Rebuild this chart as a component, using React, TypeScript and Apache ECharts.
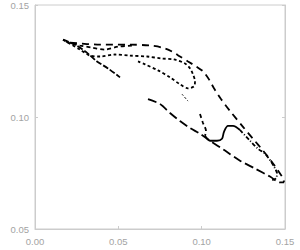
import React, { useEffect, useRef } from "react";
import * as echarts from "echarts";

const xTicks = ["0.00", "0.05", "0.10", "0.15"];
const yTicks = ["0.05", "0.10", "0.15"];

// outer long-dashed loop
const outerLoop: [number, number][] = [
  [0.021, 0.1332], [0.039, 0.1323], [0.057, 0.1323], [0.069, 0.1319], [0.0762, 0.131],
  [0.0822, 0.1292], [0.087, 0.127], [0.0918, 0.1248], [0.0966, 0.1226], [0.1008, 0.1204],
  [0.1044, 0.1168], [0.1074, 0.1128], [0.1116, 0.108], [0.117, 0.1027], [0.1248, 0.0956],
  [0.1308, 0.0903], [0.1368, 0.085], [0.1416, 0.0805], [0.1458, 0.0761], [0.1488, 0.0726],
  [0.1494, 0.0708],
];
// lower long line
const lowerLine: [number, number][] = [
  [0.0678, 0.108], [0.075, 0.1058], [0.081, 0.1018], [0.087, 0.0982], [0.093, 0.0951],
  [0.099, 0.0925], [0.105, 0.0894], [0.114, 0.085], [0.123, 0.0805], [0.132, 0.077],
  [0.141, 0.0734], [0.147, 0.0708], [0.1494, 0.0708],
];
// inner dotted loop
const innerLoop: [number, number][] = [
  [0.0168, 0.1345], [0.027, 0.1301], [0.033, 0.1274], [0.039, 0.127], [0.048, 0.1279],
  [0.057, 0.1274], [0.0672, 0.127], [0.0762, 0.1261], [0.0834, 0.1257], [0.09, 0.1239],
  [0.093, 0.1217], [0.0948, 0.119], [0.096, 0.1159], [0.0954, 0.1137], [0.0918, 0.1128],
  [0.087, 0.1146], [0.081, 0.1177], [0.0738, 0.1208], [0.066, 0.1235], [0.0618, 0.1248],
];
// left diagonal
const leftDiag: [number, number][] = [
  [0.0168, 0.1345], [0.024, 0.1323], [0.0318, 0.1283], [0.0372, 0.1248], [0.0438, 0.1217],
  [0.051, 0.1177],
];
// upper short dashes near the tip
const tipLine: [number, number][] = [
  [0.0186, 0.1336], [0.027, 0.1319], [0.0342, 0.131], [0.042, 0.1301], [0.0498, 0.1314],
  [0.0582, 0.1319],
];
// S-curve parts
const sDrop: [number, number][] = [
  [0.099, 0.1013], [0.1008, 0.0973], [0.1026, 0.0938], [0.102, 0.0916],
];
const sSolid: [number, number][] = [
  [0.102, 0.0916], [0.105, 0.0894], [0.1092, 0.0894], [0.1122, 0.0903], [0.1134, 0.0934],
  [0.1158, 0.096], [0.1188, 0.096], [0.123, 0.0942],
];
const sTail: [number, number][] = [
  [0.123, 0.0942], [0.129, 0.0894], [0.1338, 0.0858], [0.138, 0.0836], [0.1416, 0.0801],
  [0.144, 0.077], [0.1452, 0.0748], [0.1446, 0.0726], [0.1416, 0.0717],
];
const smallSeg: [number, number][] = [
  [0.0882, 0.1102], [0.0918, 0.1071],
];

const mk = (data: [number, number][], dash: any, width = 1.8) => ({
  type: "line",
  data,
  showSymbol: false,
  symbol: "none",
  smooth: 0.3,
  lineStyle: { color: "#000", width, type: dash },
  silent: true,
});

export default function App() {
  const ref = useRef<HTMLDivElement>(null);
  useEffect(() => {
    const chart = echarts.init(ref.current!, undefined, { renderer: "svg" });
    const labelStyle = { color: "#a3a3a3", fontSize: 9.5, fontFamily: "Liberation Sans" };
    chart.setOption({
      animation: false,
      grid: { left: 35, right: 15, top: 3, bottom: 21, show: true, borderColor: "#cccccc", borderWidth: 1 },
      xAxis: [
        {
          type: "value", min: 0, max: 0.15, interval: 0.05,
          axisLine: { show: true, lineStyle: { color: "#cccccc" } },
          axisTick: { show: true, inside: true, length: 3, lineStyle: { color: "#cccccc" } },
          splitLine: { show: false },
          axisLabel: { ...labelStyle, margin: 7, formatter: (v: number) => xTicks[Math.round(v / 0.05)] },
        },
      ],
      yAxis: [
        {
          type: "value", min: 0.05, max: 0.15, interval: 0.05,
          axisLine: { show: true, lineStyle: { color: "#cccccc" } },
          axisTick: { show: true, inside: true, length: 3, lineStyle: { color: "#cccccc" } },
          splitLine: { show: false },
          axisLabel: { ...labelStyle, margin: 6, formatter: (v: number) => yTicks[Math.round(v / 0.05) - 1] },
        },
        {
          type: "value", min: 0.05, max: 0.15, interval: 0.05, position: "right",
          axisLine: { show: true, lineStyle: { color: "#cccccc" } },
          axisTick: { show: true, inside: true, length: 3, lineStyle: { color: "#cccccc" } },
          splitLine: { show: false },
          axisLabel: { show: false },
        },
      ],
      series: [
        mk(outerLoop, [7, 5]),
        mk(lowerLine, [9, 4]),
        mk(innerLoop, [3, 2.5]),
        mk(leftDiag, [6, 2]),
        mk(tipLine, [4, 3]),
        mk(sDrop, [4, 3]),
        mk(sSolid, "solid"),
        mk(sTail, [4, 2, 1, 2]),
        mk(smallSeg, [2, 2], 1),
      ],
    });
    return () => chart.dispose();
  }, []);
  return <div ref={ref} style={{ width: 300, height: 250, position: "absolute", left: 0, top: 0 }} />;
}
